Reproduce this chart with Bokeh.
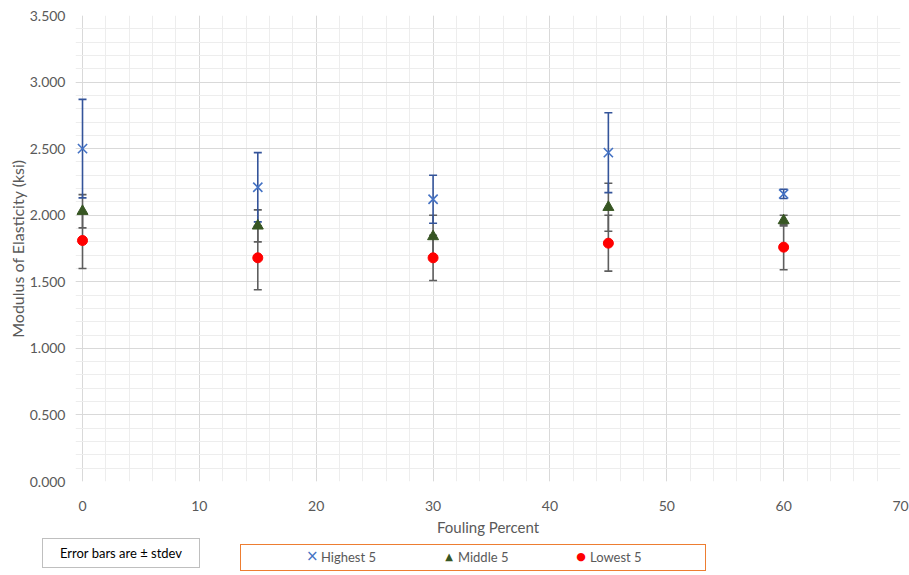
from bokeh.plotting import figure
from bokeh.layouts import column
from bokeh.models import (ColumnDataSource, Whisker, TeeHead, Div,
                          NumeralTickFormatter, FixedTicker, Range1d)
from bokeh.embed import file_html
from bokeh.resources import INLINE

# ---- data ----
fouling = [0, 15, 30, 45, 60]
highest = [2.50, 2.21, 2.12, 2.47, 2.16]
highest_sd = [0.37, 0.26, 0.18, 0.30, 0.035]
middle = [2.03, 1.92, 1.84, 2.06, 1.96]
middle_sd = [0.125, 0.12, 0.16, 0.18, 0.04]
lowest = [1.81, 1.68, 1.68, 1.79, 1.76]
lowest_sd = [0.21, 0.24, 0.17, 0.21, 0.17]
x_ticks = [0, 10, 20, 30, 40, 50, 60, 70]
y_ticks = [0.0, 0.5, 1.0, 1.5, 2.0, 2.5, 3.0, 3.5]
series_labels = ["Highest 5", "Middle 5", "Lowest 5"]
legend_symbols = ["\u00d7", "\u25b2", "\u25cf"]
note_text = "Error bars are ± stdev"

FONT = "Lato"
GRAY = "#595959"

p = figure(output_backend="svg", toolbar_location=None,
           width=909, height=538, margin=0,
           min_border_left=75, min_border_right=9, min_border_top=15, min_border_bottom=54,
           x_range=Range1d(-0.6, 70), y_range=Range1d(0, 3.5))
p.outline_line_color = None
p.background_fill_color = "white"
p.border_fill_color = "white"

for ax in (p.xaxis[0], p.yaxis[0]):
    ax.axis_line_color = None
    ax.major_tick_line_color = None
    ax.minor_tick_line_color = None
    ax.major_label_text_font = FONT
    ax.major_label_text_font_size = "14px"
    ax.major_label_text_color = GRAY
    ax.axis_label_text_font = FONT
    ax.axis_label_text_font_style = "normal"
    ax.axis_label_text_color = GRAY

p.xaxis.ticker = FixedTicker(ticks=x_ticks, minor_ticks=list(range(0, 71, 2)))
p.yaxis.ticker = FixedTicker(ticks=y_ticks, minor_ticks=[i / 10 for i in range(0, 36)])
p.yaxis.formatter = NumeralTickFormatter(format="0.000")
p.xaxis.major_label_standoff = 13
p.yaxis.major_label_standoff = 4
p.xaxis.axis_label = "Fouling Percent"
p.xaxis.axis_label_text_font_size = "15px"
p.xaxis.axis_label_standoff = 4
p.yaxis.axis_label = "Modulus of Elasticity (ksi)"
p.yaxis.axis_label_text_font_size = "16px"
p.yaxis.axis_label_standoff = 0

for g in (p.xgrid[0], p.ygrid[0]):
    g.grid_line_color = "#D9D9D9"
    g.grid_line_width = 1
    g.minor_grid_line_color = "#EDEDED"
    g.minor_grid_line_width = 1

def src(vals, sd):
    return ColumnDataSource(dict(x=fouling, y=vals,
                                 upper=[v + s for v, s in zip(vals, sd)],
                                 lower=[v - s for v, s in zip(vals, sd)]))

s_low = src(lowest, lowest_sd)
s_mid = src(middle, middle_sd)
s_high = src(highest, highest_sd)

for s, col in ((s_low, "#5E5E5E"), (s_mid, "#5E5E5E"), (s_high, "#34549A")):
    w = Whisker(source=s, base="x", upper="upper", lower="lower",
                line_color=col, line_width=1.6,
                upper_head=TeeHead(size=8, line_color=col, line_width=1.6),
                lower_head=TeeHead(size=8, line_color=col, line_width=1.6))
    p.add_layout(w)

STYLES = [dict(marker="x", size=13, line_color="#4472C4", line_width=1.6),
          dict(marker="triangle", size=11, fill_color="#375623", line_color="#375623"),
          dict(marker="circle", size=10, fill_color="#FF0000", line_color="#FF0000")]
SYMBOL_COLORS = ["#4472C4", "#375623", "#FF0000"]
SYMBOL_SIZES = ["15px", "10px", "11px"]

for s, st in zip((s_high, s_mid, s_low), STYLES):
    p.scatter("x", "y", source=s, **st)

# ---- strip below the chart: note box and legend ----
item_pos = [306, 443, 575]  # left edge of each legend entry (px)
items_html = ""
for lab, sym, colr, fs, left in zip(series_labels, legend_symbols, SYMBOL_COLORS, SYMBOL_SIZES, item_pos):
    items_html += (
        f'<div style="position:absolute;left:{left}px;top:9px;height:20px;display:flex;'
        f'align-items:center;white-space:nowrap;">'
        f'<span style="color:{colr};font-size:{fs};font-family:\'DejaVu Sans\';width:12px;'
        f'display:inline-block;text-align:center;">{sym}</span>'
        f'<span style="color:{GRAY};font-size:13px;margin-left:3px;">{lab}</span></div>'
    )

html = (
    f'<div style="position:relative;width:909px;height:37px;font-family:{FONT};">'
    f'<div style="position:absolute;left:42px;top:0px;width:158px;height:30px;'
    f'border:1px solid #BFBFBF;box-sizing:border-box;display:flex;align-items:center;'
    f'justify-content:center;font-size:13px;color:black;white-space:nowrap;">{note_text}</div>'
    f'<div style="position:absolute;left:240px;top:6px;width:466px;height:27px;'
    f'border:1.5px solid #ED7D31;box-sizing:border-box;"></div>'
    f'{items_html}</div>'
)
strip = Div(text=html, width=909, height=37, margin=0)

layout = column(p, strip, spacing=0)
open("out.html", "w").write(file_html(layout, INLINE))
